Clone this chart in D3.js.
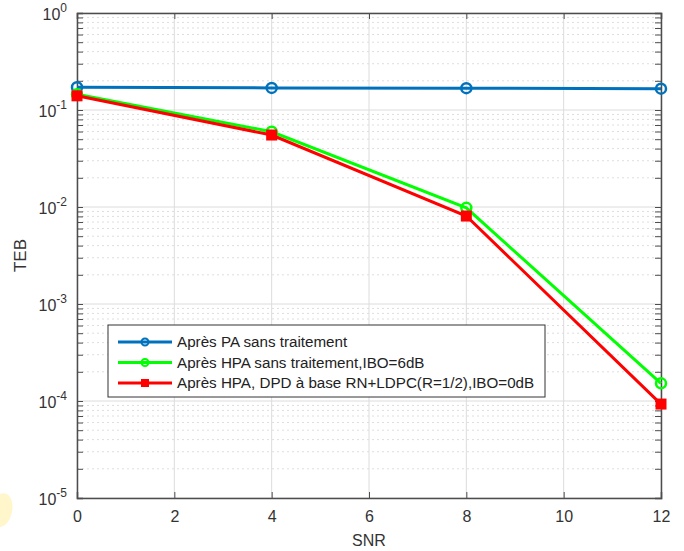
<!DOCTYPE html>
<html>
<head>
<meta charset="utf-8">
<script src="https://cdn.jsdelivr.net/npm/d3@7"></script>
<style>
  body { margin: 0; background: #fff; }
  svg { font-family: "Liberation Sans", Arial, sans-serif; }
</style>
</head>
<body>
<svg id="chart" width="684" height="551"></svg>
<script>
// data
var snr = [0, 4, 8, 12];
var tebPA = [0.172, 0.169, 0.168, 0.166];
var tebHPA = [0.145, 0.0597, 0.0098, 0.000152];
var tebDPD = [0.140, 0.0552, 0.00807, 0.000093];
var xTicks = [0, 2, 4, 6, 8, 10, 12];
var yDecades = [0, -1, -2, -3, -4, -5];
var seriesNames = ["Après PA sans traitement", "Après HPA sans traitement,IBO=6dB", "Après HPA, DPD à base RN+LDPC(R=1/2),IBO=0dB"];
var seriesColors = ["#0072BD", "#00FF00", "#FF0000"];

var pLeft = 77, pRight = 661, pTop = 13, pBottom = 498;
var svg = d3.select("#chart");

// faint yellow smudge at left edge
svg.append("path").attr("d", "M0,494 C10,490 14,502 12,512 C10,522 4,527 0,527 Z").attr("fill", "#fff6cc");

var x = d3.scaleLinear().domain([0, 12]).range([pLeft, pRight]);
var y = d3.scaleLog().domain([1e-5, 1]).range([pBottom, pTop]);

var g = svg.append("g");

// minor grid
var minor = [];
for (var d = -5; d < 0; d++) {
  for (var m = 2; m <= 9; m++) minor.push(m * Math.pow(10, d));
}
var decVals = yDecades.map(function(e) { return Math.pow(10, e); });
g.selectAll(".minor").data(minor).enter().append("line")
  .attr("x1", pLeft).attr("x2", pRight)
  .attr("y1", function(v) { return y(v); }).attr("y2", function(v) { return y(v); })
  .attr("stroke", "#dedede").attr("stroke-width", 1).attr("stroke-dasharray", "2,3");

// major grid
g.selectAll(".hmaj").data(decVals).enter().append("line")
  .attr("x1", pLeft).attr("x2", pRight)
  .attr("y1", function(v) { return y(v); }).attr("y2", function(v) { return y(v); })
  .attr("stroke", "#dcdcdc").attr("stroke-width", 1);
g.selectAll(".vmaj").data(xTicks).enter().append("line")
  .attr("x1", function(v) { return x(v); }).attr("x2", function(v) { return x(v); })
  .attr("y1", pTop).attr("y2", pBottom)
  .attr("stroke", "#dcdcdc").attr("stroke-width", 1);

// axes with inward ticks (box)
var axisCol = "#4d4d4d";
var xb = svg.append("g").attr("transform", "translate(0," + pBottom + ")")
  .call(d3.axisBottom(x).tickValues(xTicks).tickSize(-6).tickPadding(13).tickFormat(d3.format("d")));
var xt = svg.append("g").attr("transform", "translate(0," + pTop + ")")
  .call(d3.axisTop(x).tickValues(xTicks).tickSize(-6).tickFormat(""));
var yl = svg.append("g").attr("transform", "translate(" + pLeft + ",0)")
  .call(d3.axisLeft(y).tickValues(minor.concat(decVals)).tickSize(-6).tickFormat(""));
var yr = svg.append("g").attr("transform", "translate(" + pRight + ",0)")
  .call(d3.axisRight(y).tickValues(minor.concat(decVals)).tickSize(-6).tickFormat(""));
[xb, xt, yl, yr].forEach(function(a) {
  a.select(".domain").attr("stroke", axisCol).attr("stroke-width", 1.5);
  a.selectAll(".tick line").attr("stroke", axisCol).attr("stroke-width", 1);
});
xb.selectAll(".tick text").attr("fill", "#333").style("font-size", "16px").style("font-family", "Liberation Sans, Arial, sans-serif");

// y labels 10^e
var ylab = svg.selectAll(".ylab").data(yDecades).enter().append("text")
  .attr("x", pLeft - 10).attr("y", function(e) { return y(Math.pow(10, e)) + 7; })
  .attr("text-anchor", "end").attr("fill", "#333").style("font-size", "16px");
ylab.append("tspan").text("10");
ylab.append("tspan").attr("dy", -8).style("font-size", "12px").text(function(e) { return e; });

// axis titles
svg.append("text").attr("x", (pLeft + pRight) / 2).attr("y", 546).attr("text-anchor", "middle")
  .attr("fill", "#333").style("font-size", "16px").text("SNR");
svg.append("text").attr("transform", "translate(26," + ((pTop + pBottom) / 2) + ") rotate(-90)")
  .attr("text-anchor", "middle").attr("fill", "#333").style("font-size", "17px").text("TEB");

// series
var series = [tebPA, tebHPA, tebDPD];
var line = d3.line().x(function(d) { return x(d[0]); }).y(function(d) { return y(d[1]); });
series.forEach(function(s, i) {
  var pts = snr.map(function(v, j) { return [v, s[j]]; });
  svg.append("path").datum(pts).attr("d", line)
    .attr("fill", "none").attr("stroke", seriesColors[i]).attr("stroke-width", 3);
  if (i < 2) {
    svg.selectAll(".m" + i).data(pts).enter().append("circle")
      .attr("cx", function(d) { return x(d[0]); }).attr("cy", function(d) { return y(d[1]); })
      .attr("r", 5).attr("fill", "none").attr("stroke", seriesColors[i]).attr("stroke-width", 2.5);
  } else {
    svg.selectAll(".m" + i).data(pts).enter().append("rect")
      .attr("x", function(d) { return x(d[0]) - 5.5; }).attr("y", function(d) { return y(d[1]) - 5.5; })
      .attr("width", 11).attr("height", 11).attr("fill", seriesColors[i]);
  }
});

// legend
var lg = svg.append("g").attr("transform", "translate(108,325)");
lg.append("rect").attr("width", 437).attr("height", 72).attr("fill", "#fff").attr("stroke", "#333").attr("stroke-width", 1);
seriesNames.forEach(function(n, i) {
  var ly = 17 + i * 20.5;
  lg.append("line").attr("x1", 10).attr("x2", 64).attr("y1", ly).attr("y2", ly)
    .attr("stroke", seriesColors[i]).attr("stroke-width", 3);
  if (i < 2) {
    lg.append("circle").attr("cx", 37).attr("cy", ly).attr("r", 3.5)
      .attr("fill", "none").attr("stroke", seriesColors[i]).attr("stroke-width", 2);
  } else {
    lg.append("rect").attr("x", 33).attr("y", ly - 4).attr("width", 8).attr("height", 8).attr("fill", seriesColors[i]);
  }
  lg.append("text").attr("x", 69).attr("y", ly + 5).attr("fill", "#222").style("font-size", "15.2px").text(n);
});
</script>
</body>
</html>
